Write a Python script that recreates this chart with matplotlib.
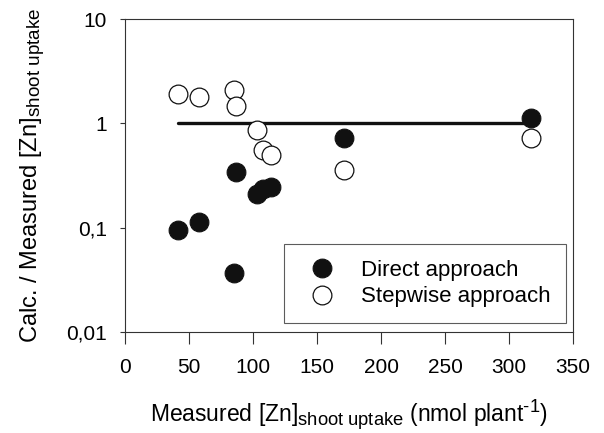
import numpy as np
import matplotlib
matplotlib.use('Agg')
import matplotlib.pyplot as plt
import matplotlib._mathtext as mathtext_internal

plt.rcParams['font.family'] = ['Liberation Sans', 'DejaVu Sans']
plt.rcParams['mathtext.fontset'] = 'custom'
plt.rcParams['mathtext.rm'] = 'Liberation Sans'
plt.rcParams['mathtext.it'] = 'Liberation Sans:italic'
# the original figure uses larger subscripts than mathtext's default 0.7
mathtext_internal.SHRINK_FACTOR = 0.8

# measured Zn shoot uptake (nmol plant-1) and calc./measured ratios
direct_x = [41, 58, 85, 87, 103, 108, 114, 171, 317]
direct_y = [0.096, 0.113, 0.037, 0.343, 0.209, 0.235, 0.245, 0.72, 1.13]
stepwise_x = [41, 58, 85, 87, 103, 108, 114, 171, 317]
stepwise_y = [1.93, 1.78, 2.08, 1.48, 0.87, 0.56, 0.50, 0.356, 0.73]
line_x = [41, 317]
line_y = [1, 1]

xticks = [0, 50, 100, 150, 200, 250, 300, 350]
yticks = [0.01, 0.1, 1, 10]
ytick_labels = ['0,01', '0,1', '1', '10']

fig = plt.figure(figsize=(6.04, 4.33), dpi=100)
ax = fig.add_axes([0.207, 0.233, 0.742, 0.723])

ax.plot(line_x, line_y, color='#111111', lw=2.4, solid_capstyle='round', zorder=2)
ax.plot(direct_x, direct_y, 'o', ms=13.5, mfc='#111111', mec='#111111', mew=0.8,
        label='Direct approach', zorder=3)
ax.plot(stepwise_x, stepwise_y, 'o', ms=13.5, mfc='white', mec='#111111', mew=0.9,
        label='Stepwise approach', zorder=3)

ax.set_yscale('log')
ax.set_xlim(0, 350)
ax.set_ylim(0.01, 10)
ax.set_xticks(xticks)
ax.set_yticks(yticks)
ax.set_yticklabels(ytick_labels)
ax.yaxis.set_minor_locator(matplotlib.ticker.NullLocator())
ax.tick_params(labelsize=15, width=0.8, color='#333333')
ax.tick_params(axis='x', length=8.6, pad=10)
ax.tick_params(axis='y', length=3.6, pad=9.5)

for s in ax.spines.values():
    s.set_color('#333333')
    s.set_linewidth(0.8)

ax.set_xlabel(r'Measured [Zn]$_{\mathrm{shoot\ uptake}}$ (nmol plant$^{\text{-1}}$)',
              fontsize=16.5, labelpad=15)
ax.set_ylabel(r'Calc. / Measured [Zn]$_{\mathrm{shoot\ uptake}}$', fontsize=17, labelpad=14)

leg = ax.legend(loc='lower right', bbox_to_anchor=(0.984, 0.029), fontsize=16,
                frameon=True, fancybox=False, borderpad=0.7, handlelength=2.0,
                handletextpad=0.75, labelspacing=0.25, borderaxespad=0)
leg.get_frame().set_edgecolor('#333333')
leg.get_frame().set_linewidth(0.8)

fig.savefig('out.png', dpi=100)
